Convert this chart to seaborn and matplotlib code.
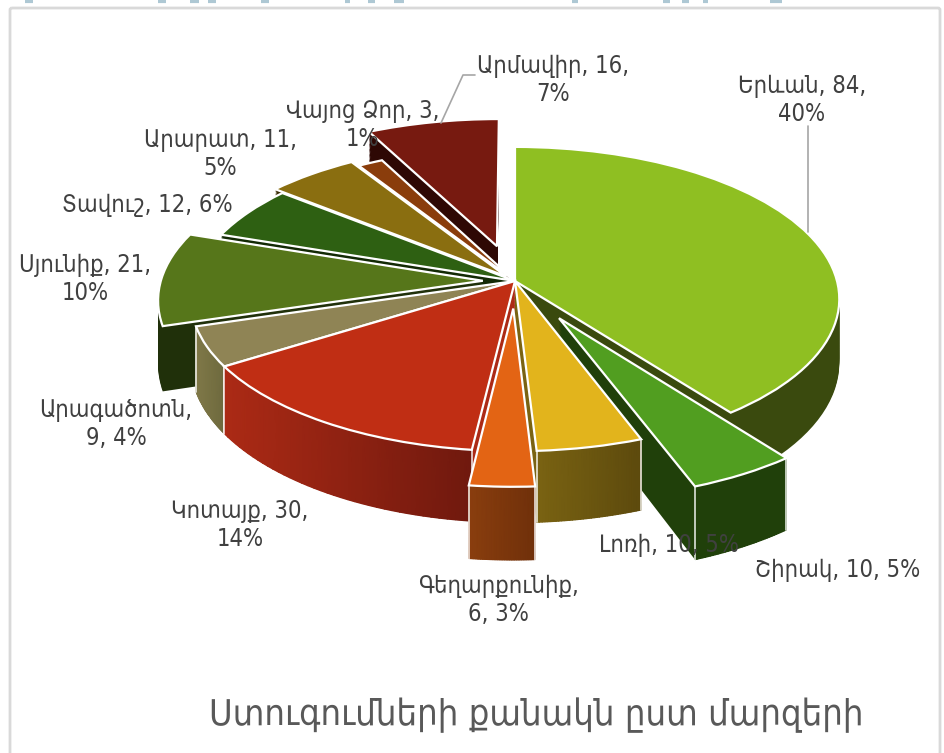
import numpy as np
import seaborn as sns
import matplotlib
matplotlib.use("Agg")
import matplotlib.pyplot as plt
import matplotlib.transforms as mtrans
from matplotlib.colors import LinearSegmentedColormap
from matplotlib.patches import FancyBboxPatch

regions = ["Երևան", "Շիրակ", "Լոռի", "Գեղարքունիք", "Կոտայք", "Արագածոտն",
           "Սյունիք", "Տավուշ", "Արարատ", "Վայոց Ձոր", "Արմավիր"]
counts = [84, 10, 10, 6, 30, 9, 21, 12, 11, 3, 16]
explode = [0, 0.275, 0, 0.18, 0, 0, 0.10, 0, 0.04, 0, 0.245]
top_colors = ["#8fbf22", "#519e20", "#e2b41c", "#e36414", "#c02e14", "#8f8455",
              "#56761a", "#2e6012", "#8a6e10", "#8a3d0c", "#771a10"]
wall_left = ["#3a4a0e", "#20400a", "#7a6312", "#8a3e0e", "#ac2a15", "#807848",
             "#20300a", "#132a05", "#3a2c04", "#361a04", "#2e0804"]
wall_right = ["#3a4a0e", "#20400a", "#5d4a0d", "#70300a", "#70190e", "#6e6a3e",
              "#20300a", "#132a05", "#3a2c04", "#361a04", "#2e0804"]

label_text = ["Երևան, 84,\n40%", "Շիրակ, 10, 5%", "Լոռի, 10, 5%", "Գեղարքունիք,\n6, 3%",
              "Կոտայք, 30,\n14%", "Արագածոտն,\n9, 4%", "Սյունիք, 21,\n10%", "Տավուշ, 12, 6%",
              "Արարատ, 11,\n5%", "Վայոց Ձոր, 3,\n1%", "Արմավիր, 16,\n7%"]
label_x = [802, 838, 669, 498, 240, 116, 85, 147, 220, 363, 553]
label_y = [100, 570, 545, 600, 525, 424, 279, 205, 154, 125, 80]

# bottoms of the cut off heading above the chart
crumb_from = [25, 158, 190, 208, 261, 345, 368, 394, 572, 663, 682, 703, 770]
crumb_to = [33, 166, 199, 216, 269, 350, 375, 404, 578, 670, 689, 708, 782]

CX, CY = 515, 281
RX, RY, DEPTH, PERSP = 322, 150, 63, 0.1186
N_LAYERS = 45


class Tilt(mtrans.Transform):
    # puts the flat pie on a tilted plate, z goes down the side wall
    input_dims = 2
    output_dims = 2
    is_separable = False
    has_inverse = False

    def __init__(self, z=0):
        super().__init__()
        self.z = z

    def transform_non_affine(self, xy):
        xy = np.asarray(xy, dtype=float)
        d = 1 + PERSP * xy[:, 1]
        return np.column_stack([CX + RX * xy[:, 0] / d,
                                CY - (RY * xy[:, 1] - DEPTH * self.z) / d])

    def transform_path_non_affine(self, path):
        return matplotlib.path.Path._fast_from_codes_and_verts(
            self.transform_non_affine(path.vertices), path.codes, path)


sns.set_theme(style="white")
plt.rcParams["font.family"] = ["DejaVu Sans"]

fig = plt.figure(figsize=(9.45, 7.53), dpi=100)
ax = fig.add_axes([0, 0, 1, 1])

total = sum(counts)
ends = np.cumsum(counts) / total * 2 * np.pi
starts = ends - np.array(counts) / total * 2 * np.pi
mids = (starts + ends) / 2
rank = np.argsort(np.argsort(-np.cos(mids)))


def draw_pie(z, colors, edge, lw, step):
    wedges, _ = ax.pie(counts, explode=explode, colors=colors, startangle=90, counterclock=False,
                       radius=1, wedgeprops={"transform": Tilt(z) + ax.transData,
                                             "edgecolor": edge, "linewidth": lw})
    for i, w in enumerate(wedges):
        w.set_zorder(10 * rank[i] + step)


# side walls, stacked from the bottom up
for n in range(N_LAYERS):
    z = 1 - n / N_LAYERS
    draw_pie(z, wall_left, "none", 0, 1 + 5 * n / N_LAYERS)

# gradient and corner lines on the outer wall
for i in range(len(counts)):
    t = np.linspace(starts[i], ends[i], 40)
    x = np.sin(t) + explode[i] * np.sin(mids[i])
    y = np.cos(t) + explode[i] * np.cos(mids[i])
    pts = np.column_stack([x, y])
    top = Tilt(0).transform_non_affine(pts)
    bot = Tilt(1).transform_non_affine(pts)
    if np.cos(mids[i]) > 0:
        continue
    X = np.vstack([top[:, 0], bot[:, 0]])
    Y = np.vstack([top[:, 1], bot[:, 1]])
    order = (X[0] - X[0].min()) / (X[0].max() - X[0].min())
    cm = LinearSegmentedColormap.from_list("w%d" % i, [wall_left[i], wall_right[i]])
    ax.pcolormesh(X, Y, np.vstack([order, order]), shading="gouraud", cmap=cm, vmin=0, vmax=1,
                  zorder=10 * rank[i] + 6.5)
    for k in (0, -1):
        ax.plot(X[:, k], Y[:, k], color="white", lw=1.2, alpha=0.85, zorder=10 * rank[i] + 7)

draw_pie(0, top_colors, "white", 1.6, 8)

ax.set_aspect("auto")
ax.set_xlim(0, 945)
ax.set_ylim(753, 0)
ax.axis("on")
ax.set_xticks([])
ax.set_yticks([])
for s in ax.spines.values():
    s.set_visible(False)

# chart frame
ax.add_patch(FancyBboxPatch((10, 8), 930, 790, boxstyle="round,pad=0,rounding_size=2",
                            fc="none", ec="#d9d9d9", lw=2, zorder=0))
ax.hlines([1] * len(crumb_from), crumb_from, crumb_to, color="#aec8d4", lw=3, zorder=0)

# leader lines
ax.plot([475, 463, 441], [75, 75, 123], color="#a6a6a6", lw=1.2, zorder=200)
ax.plot([808, 808], [126, 232], color="#a6a6a6", lw=1.2, zorder=200)

for name, txt, lx, ly in zip(regions, label_text, label_x, label_y):
    ax.text(lx, ly, txt, ha="center", va="center", fontsize=17, color="#404040",
            fontstretch="condensed", linespacing=1.22, zorder=210)

ax.text(536, 715, "Ստուգումների քանակն ըստ մարզերի", ha="center", va="center", fontsize=26,
        color="#595959", fontstretch="condensed", zorder=210)

fig.savefig("out.png", dpi=100)
